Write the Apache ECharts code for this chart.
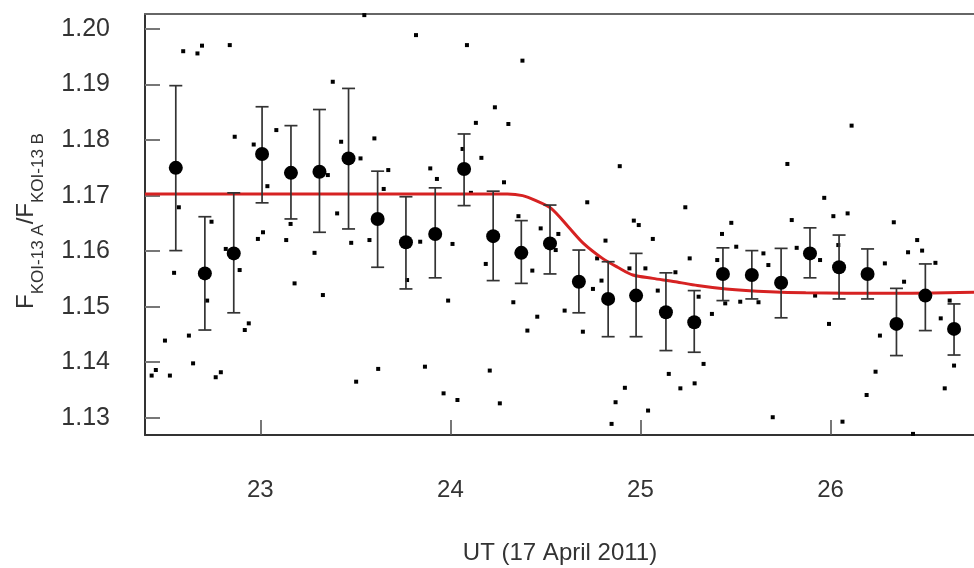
<!DOCTYPE html>
<html>
<head>
<meta charset="utf-8">
<title>KOI-13 flux ratio</title>
<script src="https://cdn.jsdelivr.net/npm/echarts@6.0.0/dist/echarts.min.js"></script>
<style>
  html, body { margin: 0; padding: 0; background: #fff; }
  #chart { width: 974px; height: 568px; }
</style>
</head>
<body>
<div id="chart"></div>
<script>
// Individual flux-ratio measurements (UT hours, ratio)
const rawTime = [
  22.594, 22.669, 22.693, 22.839, 22.865, 22.965, 23.084, 23.037, 22.571, 22.743,
  22.987, 23.014, 23.136, 23.159, 22.818, 22.891, 22.546, 23.180, 22.720, 22.918,
  22.939, 22.624, 22.498, 22.646, 22.450, 22.428, 22.524, 22.765, 22.792,
  23.547, 23.819, 24.087, 23.381, 23.425, 23.600, 23.527, 23.355, 23.673, 23.649,
  23.894, 23.929, 24.064, 24.108, 23.404, 23.478, 23.574, 23.285, 23.841, 24.011,
  23.772, 23.329, 23.988, 23.620, 23.504, 23.866, 23.964, 24.037,
  24.379, 24.234, 24.134, 24.305, 24.163, 24.891, 24.282, 24.720, 24.358, 24.475,
  24.568, 24.965, 24.816, 24.554, 24.186, 24.772, 24.431, 24.942, 24.795, 24.750,
  24.331, 24.457, 24.601, 24.405, 24.697, 24.207, 24.260, 24.918, 24.869, 24.848,
  25.773, 25.236, 25.478, 25.796, 24.991, 25.065, 25.429, 25.504, 25.259, 25.822,
  25.026, 25.404, 25.647, 25.673, 25.184, 25.091, 25.446, 25.525, 25.621, 25.376,
  25.306, 25.332, 25.149, 25.210, 25.285, 25.040, 25.696,
  26.111, 25.967, 26.015, 26.090, 26.333, 26.456, 26.408, 26.482, 25.945, 26.041,
  26.286, 26.552, 26.387, 25.919, 25.992, 26.260, 26.580, 26.650, 26.237, 26.601,
  26.190, 26.063, 26.434, 26.627
];
const rawRatio = [
  1.1960, 1.1956, 1.1970, 1.1971, 1.1806, 1.1792, 1.1818, 1.1717, 1.1679, 1.1653,
  1.1622, 1.1634, 1.1620, 1.1649, 1.1604, 1.1566, 1.1561, 1.1542, 1.1511, 1.1458,
  1.1470, 1.1448, 1.1439, 1.1398, 1.1386, 1.1376, 1.1376, 1.1373, 1.1382,
  1.2025, 1.1989, 1.1971, 1.1905, 1.1797, 1.1803, 1.1767, 1.1737, 1.1746, 1.1712,
  1.1749, 1.1730, 1.1784, 1.1705, 1.1668, 1.1615, 1.1620, 1.1597, 1.1617, 1.1613,
  1.1548, 1.1521, 1.1511, 1.1388, 1.1365, 1.1392, 1.1344, 1.1332,
  1.1943, 1.1859, 1.1831, 1.1829, 1.1768, 1.1753, 1.1724, 1.1688, 1.1663, 1.1641,
  1.1631, 1.1655, 1.1619, 1.1602, 1.1577, 1.1587, 1.1565, 1.1569, 1.1547, 1.1532,
  1.1508, 1.1482, 1.1493, 1.1457, 1.1455, 1.1385, 1.1326, 1.1354, 1.1328, 1.1289,
  1.1757, 1.1679, 1.1651, 1.1656, 1.1647, 1.1622, 1.1631, 1.1608, 1.1587, 1.1606,
  1.1569, 1.1584, 1.1596, 1.1575, 1.1562, 1.1529, 1.1506, 1.1509, 1.1508, 1.1487,
  1.1518, 1.1397, 1.1379, 1.1353, 1.1362, 1.1313, 1.1301,
  1.1826, 1.1696, 1.1663, 1.1668, 1.1652, 1.1620, 1.1598, 1.1601, 1.1584, 1.1611,
  1.1578, 1.1579, 1.1545, 1.1520, 1.1469, 1.1448, 1.1479, 1.1394, 1.1383, 1.1353,
  1.1341, 1.1293, 1.1271, 1.1511
];

// Binned means with their error ranges
const binTime = [
  22.555, 22.708, 22.860, 23.009, 23.161, 23.311, 23.464, 23.617, 23.766, 23.920,
  24.072, 24.225, 24.373, 24.524, 24.676, 24.830, 24.977, 25.134, 25.283, 25.434,
  25.586, 25.740, 25.892, 26.045, 26.195, 26.347, 26.499, 26.650
];
const binRatio = [
  1.1750, 1.1560, 1.1596, 1.1775, 1.1741, 1.1743, 1.1767, 1.1658, 1.1616, 1.1631,
  1.1748, 1.1627, 1.1597, 1.1614, 1.1545, 1.1514, 1.1520, 1.1490, 1.1472, 1.1559,
  1.1557, 1.1543, 1.1596, 1.1571, 1.1559, 1.1469, 1.1520, 1.1460
];
const binHigh = [
  1.1898, 1.1662, 1.1705, 1.1860, 1.1826, 1.1855, 1.1893, 1.1744, 1.1698, 1.1714,
  1.1811, 1.1708, 1.1655, 1.1683, 1.1602, 1.1581, 1.1596, 1.1561, 1.1529, 1.1606,
  1.1601, 1.1605, 1.1642, 1.1629, 1.1604, 1.1533, 1.1577, 1.1505
];
const binLow = [
  1.1601, 1.1458, 1.1489, 1.1687, 1.1658, 1.1634, 1.1640, 1.1571, 1.1532, 1.1552,
  1.1682, 1.1547, 1.1542, 1.1559, 1.1489, 1.1446, 1.1446, 1.1421, 1.1418, 1.1511,
  1.1514, 1.1480, 1.1552, 1.1514, 1.1514, 1.1412, 1.1457, 1.1413
];

// Model light curve
const modelTime = [
  22.393, 24.300, 24.380, 24.450, 24.530, 24.620, 24.700, 24.800, 24.880, 24.960,
  25.065, 25.184, 25.300, 25.450, 25.680, 25.870, 26.300, 26.755
];
const modelRatio = [
  1.1703, 1.1703, 1.1700, 1.1691, 1.1677, 1.1644, 1.1614, 1.1587, 1.1571, 1.1557,
  1.1551, 1.1545, 1.1538, 1.1532, 1.1527, 1.1525, 1.1524, 1.1526
];

// Tick labels
const xTicks = [23, 24, 25, 26];
const yTicks = [1.13, 1.14, 1.15, 1.16, 1.17, 1.18, 1.19, 1.20];

const xTitle = 'UT (17 April 2011)';

const chart = echarts.init(document.getElementById('chart'), null, { renderer: 'canvas' });

const zip = (a, b) => a.map((v, i) => [v, b[i]]);
const errorData = binTime.map((t, i) => [t, binLow[i], binHigh[i]]);

const labelFont = "'Liberation Sans', 'Helvetica', Arial, sans-serif";

chart.setOption({
  animation: false,
  backgroundColor: '#ffffff',
  grid: { left: 145, top: 14, right: -2, bottom: 133 },
  xAxis: [
    {
      type: 'value',
      min: 22.393,
      max: 26.755,
      position: 'bottom',
      splitLine: { show: false },
      axisLine: { show: true, onZero: false, lineStyle: { color: '#333', width: 2 } },
      axisTick: { show: true, inside: true, length: 15, customValues: xTicks,
                  lineStyle: { color: '#555', width: 1.6 } },
      axisLabel: { customValues: xTicks, margin: 43, fontSize: 24,
                   color: '#333', fontFamily: labelFont }
    },
    {
      type: 'value',
      min: 22.393,
      max: 26.755,
      position: 'top',
      splitLine: { show: false },
      axisLine: { show: true, onZero: false, lineStyle: { color: '#666', width: 2 } },
      axisTick: { show: false },
      axisLabel: { show: false }
    }
  ],
  yAxis: {
    type: 'value',
    min: 1.1269,
    max: 1.2027,
    splitLine: { show: false },
    axisLine: { show: true, onZero: false, lineStyle: { color: '#333', width: 2 } },
    axisTick: { show: true, inside: true, length: 15, customValues: yTicks,
                lineStyle: { color: '#777', width: 2 } },
    axisLabel: { customValues: yTicks, margin: 35, fontSize: 25, color: '#333',
                 fontFamily: labelFont, formatter: v => v.toFixed(2) }
  },
  graphic: [
    {
      type: 'text',
      x: 560,
      y: 553,
      style: {
        text: xTitle,
        fontSize: 24,
        fontFamily: labelFont,
        fill: '#333',
        align: 'center',
        verticalAlign: 'middle'
      }
    },
    {
      type: 'text',
      x: 27,
      y: 221,
      rotation: Math.PI / 2,
      style: {
        text: '{a|F}{s|KOI-13 A}{a|/F}{s|KOI-13 B}',
        align: 'center',
        verticalAlign: 'middle',
        fill: '#333',
        rich: {
          a: { fontSize: 24, lineHeight: 26, verticalAlign: 'top',
               fontFamily: labelFont, fill: '#333' },
          s: { fontSize: 17, lineHeight: 17, padding: [16, 0, 0, 0], verticalAlign: 'top',
               fontFamily: labelFont, fill: '#333' }
        }
      }
    }
  ],
  series: [
    {
      name: 'measurements',
      type: 'scatter',
      data: zip(rawTime, rawRatio),
      symbol: 'rect',
      symbolSize: 4,
      itemStyle: { color: '#000', opacity: 1 },
      z: 2
    },
    {
      name: 'model',
      type: 'line',
      data: zip(modelTime, modelRatio),
      showSymbol: false,
      smooth: 0.3,
      lineStyle: { color: '#d62222', width: 3 },
      z: 3
    },
    {
      name: 'error bars',
      type: 'custom',
      data: errorData,
      z: 4,
      renderItem: function (params, api) {
        const x = api.value(0);
        const lo = api.coord([x, api.value(1)]);
        const hi = api.coord([x, api.value(2)]);
        const half = 6.5;
        const style = { stroke: '#333', lineWidth: 1.7 };
        return {
          type: 'group',
          children: [
            { type: 'line', shape: { x1: lo[0], y1: lo[1], x2: hi[0], y2: hi[1] }, style },
            { type: 'line', shape: { x1: hi[0] - half, y1: hi[1], x2: hi[0] + half, y2: hi[1] }, style },
            { type: 'line', shape: { x1: lo[0] - half, y1: lo[1], x2: lo[0] + half, y2: lo[1] }, style }
          ]
        };
      }
    },
    {
      name: 'binned',
      type: 'scatter',
      data: zip(binTime, binRatio),
      symbol: 'circle',
      symbolSize: 14,
      itemStyle: { color: '#000', opacity: 1 },
      z: 5
    }
  ]
});
</script>
</body>
</html>
